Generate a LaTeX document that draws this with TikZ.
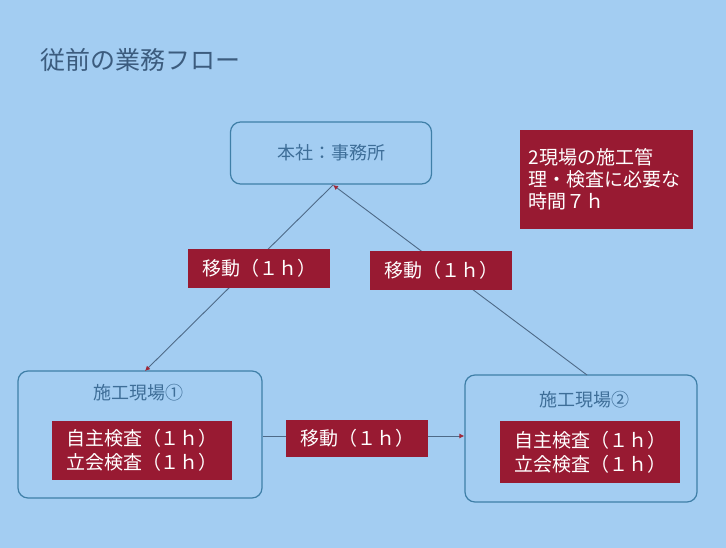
\documentclass[tikz,border=0pt]{standalone}
\usepackage{fontspec}
\setmainfont{Noto Sans CJK JP}
\usetikzlibrary{arrows.meta}
\definecolor{bgblue}{HTML}{A3CDF2}
\definecolor{boxline}{HTML}{3F7FA8}
\definecolor{boxtext}{HTML}{3E6E98}
\definecolor{titletext}{HTML}{3C5C7E}
\definecolor{maroon}{HTML}{981A32}
\definecolor{linecol}{HTML}{4E6A88}
\definecolor{tipcol}{HTML}{A02838}
\tikzset{
  x=1pt, y=-1pt,
  roundbox/.style={draw=boxline, line width=1.2pt, rounded corners=10pt, inner sep=0pt, text=boxtext, font=\fontsize{18}{21}\selectfont},
  sitelabel/.style={text=boxtext, font=\fontsize{18}{21}\selectfont, inner sep=0pt},
  redbox/.style={fill=maroon, draw=none, text=white, inner sep=0pt, font=\fontsize{19}{22}\selectfont, align=center},
  conn/.style={draw=linecol, line width=0.9pt, -{Latex[length=5pt,width=5pt,color=tipcol]}},
}
\begin{document}
\begin{tikzpicture}
\fill[bgblue] (0,0) rectangle (726,548);
\useasboundingbox (0,0) rectangle (726,548);
% title
\node[anchor=west, text=titletext, font=\fontsize{25}{28}\selectfont, inner sep=0pt] (title) at (40,60) {従前の業務フロー};
% head office
\node[roundbox, minimum width=201pt, minimum height=62pt] (hq) at (331,153) {本社：事務所};
% sites
\node[roundbox, minimum width=244pt, minimum height=127pt] (s1) at (140,434.5) {};
\node[sitelabel] (s1t) at (138,393) {施工現場①};
\node[roundbox, minimum width=232pt, minimum height=127pt] (s2) at (581,438.5) {};
\node[sitelabel] (s2t) at (584,400) {施工現場②};
% connectors
\coordinate (hqb) at (333,185);
\coordinate (s1top) at (145,371);
\coordinate (s2top) at (587,375);
\draw[conn] (hqb) -- (s1top);
\draw[conn] (s2top) -- (hqb);
\draw[conn] (s1.east |- 0,436) -- (s2.west |- 0,436);
% red boxes
\node[redbox, minimum width=142pt, minimum height=39pt] (m1) at (259,268.5) {移動（１ｈ）};
\node[redbox, minimum width=142pt, minimum height=39pt] (m2) at (441,270.5) {移動（１ｈ）};
\node[redbox, minimum width=142pt, minimum height=37pt] (m3) at (357,438.5) {移動（１ｈ）};
\node[redbox, minimum width=180pt, minimum height=59pt, font=\fontsize{19}{24}\selectfont] (i1) at (142,450.5) {自主検査（１ｈ）\\立会検査（１ｈ）};
\node[redbox, minimum width=180pt, minimum height=62pt, font=\fontsize{19}{24}\selectfont] (i2) at (590,452) {自主検査（１ｈ）\\立会検査（１ｈ）};
\node[redbox, minimum width=173pt, minimum height=99pt, align=left, font=\fontsize{19}{22}\selectfont, text width=156pt] (note) at (606.5,179.5) {2現場の施工管\\理・検査に必要な\\時間７ｈ};
\end{tikzpicture}
\end{document}
